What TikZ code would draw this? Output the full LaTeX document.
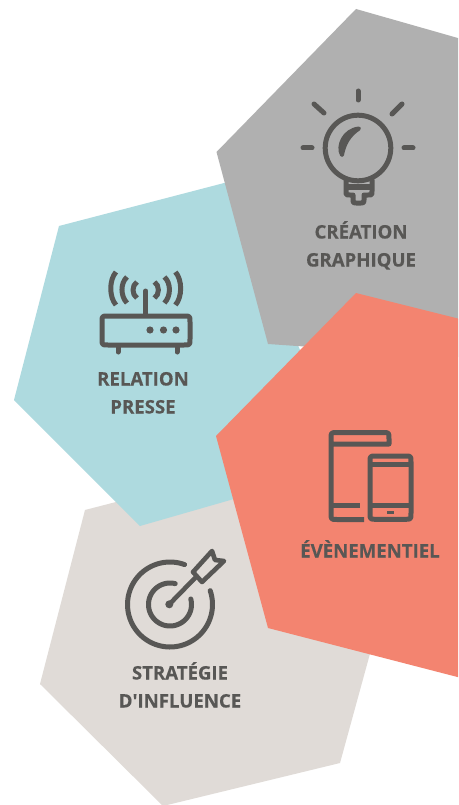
\documentclass[tikz,border=0pt]{standalone}
\usepackage{fontspec}
\setmainfont{Open Sans}
\newfontfamily\labelfont[FakeBold=0.35]{Open Sans Bold}
\definecolor{hexgray}{HTML}{B0B0B0}
\definecolor{hexblue}{HTML}{AEDADF}
\definecolor{hexred}{HTML}{F38470}
\definecolor{hexbeige}{HTML}{E0DBD7}
\definecolor{ink}{HTML}{585755}
\tikzset{
  icon/.style={draw=ink,line width=5pt,line cap=round,line join=round},
  iconthin/.style={icon,line width=4.6pt},
  label/.style={text=ink,anchor=base,inner sep=0pt,font=\fontsize{18.6}{19}\labelfont}
}
\begin{document}
\begin{tikzpicture}[x=1pt,y=-1pt]
\path[use as bounding box,fill=white] (0,0) rectangle (458,805);
\begin{scope}
\clip (0,0) rectangle (458,805);
% hexagons
\fill[hexbeige] (85,510) -- (240,470) -- (371,650) -- (340,763) -- (163,806) -- (40,684) -- cycle;
\fill[hexblue] (59,226) -- (228,182) -- (300,350) -- (300,480) -- (140,526) -- (14,400) -- cycle;
\fill[hexgray] (356,9) -- (500,50) -- (500,360) -- (268,344) -- (216.5,152) -- cycle;
\fill[hexred] (356,293) -- (500,329) -- (500,688) -- (268,628) -- (216,436) -- cycle;
% bulb
\draw[icon] (346,180) -- (346,191) .. controls (346,195) .. (350,195) -- (353,195) -- (353,200) .. controls (353,203) .. (356,203) -- (361,203) .. controls (364,203) .. (364,200) -- (364,195) -- (368,195) .. controls (372,195) .. (372,191) -- (372,180);
\draw[icon] (358,148) circle[radius=32.8];
\draw[icon,line cap=butt] (346,187) -- (372,187);
\draw[icon] (358,91) -- (358,100);
\draw[icon] (314,104) -- (324,113);
\draw[icon] (402,104) -- (392,114);
\draw[icon] (303,148) -- (312,148);
\draw[icon] (404,148) -- (413,148);
\fill[ink,draw=ink,line width=4pt,line join=round] (359,128.5) .. controls (344,130) and (337,146) .. (342,155) .. controls (344,144) and (349,135) .. (359,128.5) -- cycle;
% router
\draw[icon] (102,322) .. controls (102,316) .. (108,316) -- (184,316) .. controls (190,316) .. (190,322) -- (190,339) .. controls (190,345) .. (184,345) -- (108,345) .. controls (102,345) .. (102,339) -- cycle;
\draw[icon] (118,347) -- (118,352);
\draw[icon] (177,347) -- (177,352);
\draw[icon] (145.7,291) -- (145.7,314);
\fill[ink] (150,330) circle[radius=3.6] (163.5,330) circle[radius=3.6] (176,330) circle[radius=3.6];
\draw[icon,line cap=butt] (137,282) .. controls (131.7,285) and (131.7,295) .. (137,298);
\draw[icon,line cap=butt] (127,277) .. controls (120.3,283) and (120.3,296) .. (127,303);
\draw[icon,line cap=butt] (116,272) .. controls (109,280) and (109,297) .. (116,305);
\draw[icon,line cap=butt] (154.4,282) .. controls (159.7,285) and (159.7,295) .. (154.4,298);
\draw[icon,line cap=butt] (164.4,277) .. controls (171.1,283) and (171.1,296) .. (164.4,303);
\draw[icon,line cap=butt] (175.4,272) .. controls (182.4,280) and (182.4,297) .. (175.4,305);
% devices
\draw[icon,line cap=butt] (331,444) -- (389,444) -- (389,439) .. controls (389,432.5) .. (383,432.5) -- (337,432.5) .. controls (331,432.5) .. (331,439) -- (331,513) .. controls (331,519.5) .. (337,519.5) -- (364,519.5);
\draw[icon,line cap=butt] (331,505) -- (360,505);
\draw[icon] (370,462) .. controls (370,456) .. (376,456) -- (405,456) .. controls (411,456) .. (411,462) -- (411,513) .. controls (411,519.3) .. (405,519.3) -- (376,519.3) .. controls (370,519.3) .. (370,513) -- cycle;
\draw[icon,line cap=butt] (370,464.5) -- (411,464.5);
\draw[icon,line cap=butt] (370,505.7) -- (411,505.7);
\fill[ink] (386.5,510.5) rectangle (394,514);
% target
\draw[icon] plot[domain=70:379,samples=80] ({170+42.5*cos(\x)},{604.5-42.5*sin(\x)});
\draw[icon] plot[domain=76:375,samples=60] ({170+21.5*cos(\x)},{604.5-21.5*sin(\x)});
\fill[ink] (169.3,604.3) circle[radius=4];
\draw[iconthin] (169.3,604.3) -- (195,578);
\draw[iconthin] (193,572) -- (212,551) -- (215,560) -- (224,561) -- (202,582) -- cycle;
\end{scope}
% labels
\node[label] (creation) at (361,238.5) {CRÉATION};
\node[label] (graphique) at (361,266.5) {GRAPHIQUE};
\node[label] (relation) at (143,385.5) {RELATION};
\node[label] (presse) at (143,413.5) {PRESSE};
\node[label] (evenementiel) at (370,557.5) {ÉVÈNEMENTIEL};
\node[label] (strategie) at (180,679.5) {STRATÉGIE};
\node[label] (influence) at (180,707.5) {D'INFLUENCE};
\end{tikzpicture}
\end{document}
